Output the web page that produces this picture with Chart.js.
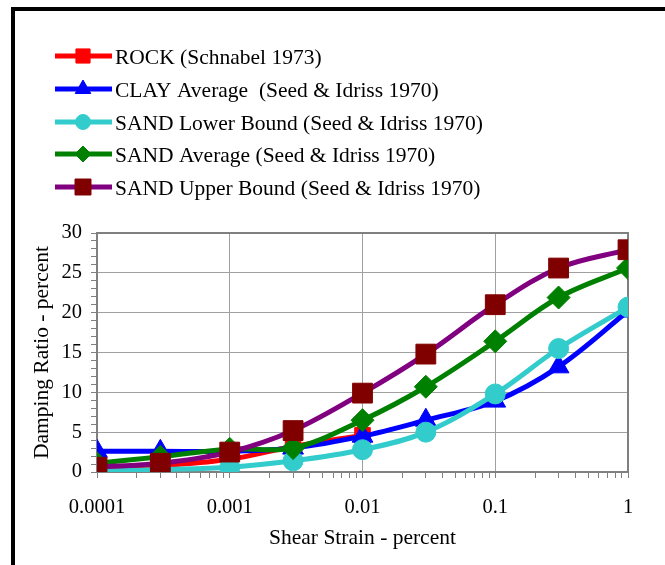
<!DOCTYPE html>
<html>
<head>
<meta charset="utf-8">
<script src="https://cdn.jsdelivr.net/npm/chart.js@4/dist/chart.umd.min.js"></script>
<style>
  html, body { margin: 0; padding: 0; background: #fff; }
  #wrap { position: relative; width: 665px; height: 565px; }
</style>
</head>
<body>
<div id="wrap"><canvas id="dampingchart"></canvas></div>
<script>
// shear strain (percent) and damping ratio (percent)
const strain = [0.0001, 0.0003, 0.001, 0.003, 0.01, 0.03, 0.1, 0.3, 1];
const rock = [0.3, 0.8, 1.6, 3.2, 4.6];
const clayAvg = [2.6, 2.6, 2.6, 3.0, 4.5, 6.5, 8.9, 13.2, 20.2];
const sandLower = [0.1, 0.3, 0.6, 1.4, 2.8, 5.0, 9.8, 15.5, 20.7];
const sandAvg = [1.1, 1.9, 2.9, 3.0, 6.5, 10.7, 16.4, 21.9, 25.6];
const sandUpper = [0.6, 1.1, 2.5, 5.2, 9.9, 14.8, 21.0, 25.6, 27.9];

const names = [
    'ROCK (Schnabel 1973)',
    'CLAY Average  (Seed & Idriss 1970)',
    'SAND Lower Bound (Seed & Idriss 1970)',
    'SAND Average (Seed & Idriss 1970)',
    'SAND Upper Bound (Seed & Idriss 1970)'
];
const xTickValues = [0.0001, 0.001, 0.01, 0.1, 1];
const xTickLabels = ['0.0001', '0.001', '0.01', '0.1', '1'];
const yTickLabels = ['0', '5', '10', '15', '20', '25', '30'];

const serif = "'Liberation Serif', 'Times New Roman', serif";
Chart.defaults.font.family = serif;
Chart.defaults.color = '#000';

function pairs(values) {
    let arr = [];
    for (let i = 0; i < values.length; i++) {
        arr.push({ x: strain[i], y: values[i] });
    }
    return arr;
}

function makeSet(label, values, lineColor, markColor, style, radius, legendRadius, order) {
    return {
        label: label,
        data: pairs(values),
        borderColor: lineColor,
        backgroundColor: markColor,
        borderWidth: 5,
        tension: 0.35,
        pointStyle: style,
        pointRadius: radius,
        pointHoverRadius: radius,
        pointBorderColor: markColor,
        pointBackgroundColor: markColor,
        pointBorderWidth: 1,
        legendRadius: legendRadius,
        order: order
    };
}

const datasets = [
    makeSet(names[0], rock, '#ff0000', '#ff0000', 'rect', 11, 10, 5),
    makeSet(names[1], clayAvg, '#0000ff', '#0000ff', 'triangle', 12, 9, 4),
    makeSet(names[2], sandLower, '#33cccc', '#33cccc', 'circle', 10, 7.5, 3),
    makeSet(names[3], sandAvg, '#008000', '#008000', 'rectRot', 11.5, 8, 2),
    makeSet(names[4], sandUpper, '#800080', '#800000', 'rect', 14, 11.3, 1)
];

function isDecade(v) {
    return xTickValues.some(d => Math.abs(v - d) / d < 1e-6);
}

const frameAndLegend = {
    id: 'frameAndLegend',
    beforeDatasetsDraw(chart) {
        const a = chart.chartArea;
        const ctx = chart.ctx;
        ctx.save();
        ctx.strokeStyle = '#808080';
        ctx.lineWidth = 2;
        ctx.strokeRect(a.left, a.top, a.right - a.left, a.bottom - a.top);
        ctx.restore();
    },
    afterDraw(chart) {
        const ctx = chart.ctx;
        ctx.save();
        // outer black border (only top and left are in the picture)
        ctx.fillStyle = '#000';
        ctx.fillRect(11, 7, 665, 4);
        ctx.fillRect(11, 7, 4, 565);

        ctx.font = '21.5px ' + serif;
        ctx.textBaseline = 'alphabetic';
        ctx.textAlign = 'left';
        for (let i = 0; i < datasets.length; i++) {
            const ds = datasets[i];
            const y = Math.round(56 + 32.8 * i);
            ctx.strokeStyle = ds.borderColor;
            ctx.lineWidth = 5;
            ctx.beginPath();
            ctx.moveTo(55, y);
            ctx.lineTo(112, y);
            ctx.stroke();
            ctx.fillStyle = ds.pointBackgroundColor;
            ctx.strokeStyle = ds.pointBorderColor;
            ctx.lineWidth = 1;
            Chart.helpers.drawPoint(ctx, {
                pointStyle: ds.pointStyle,
                radius: ds.legendRadius,
                rotation: 0,
                borderWidth: 1
            }, 83, y);
            ctx.fillStyle = '#000';
            ctx.fillText(ds.label, 115, y + 8);
        }
        ctx.restore();
    }
};

const config = {
    type: 'line',
    data: { datasets: datasets },
    options: {
        responsive: true,
        maintainAspectRatio: false,
        animation: false,
        layout: { padding: { left: 0, right: 37, top: 233, bottom: 0 } },
        plugins: { legend: { display: false }, tooltip: { enabled: false } },
        scales: {
            x: {
                type: 'logarithmic',
                min: 0.0001,
                max: 1,
                afterBuildTicks(scale) {
                    let ticks = [];
                    for (let d = 0; d < xTickValues.length - 1; d++) {
                        for (let m = 1; m < 10; m++) {
                            ticks.push({ value: m * xTickValues[d] });
                        }
                    }
                    ticks.push({ value: 1 });
                    scale.ticks = ticks;
                },
                afterFit(scale) { scale.height = 93; },
                ticks: {
                    autoSkip: false,
                    maxRotation: 0,
                    padding: 17,
                    font: { size: 20.5 },
                    callback(value) {
                        for (let d = 0; d < xTickValues.length; d++) {
                            if (Math.abs(value - xTickValues[d]) / xTickValues[d] < 1e-6) return xTickLabels[d];
                        }
                        return '';
                    }
                },
                grid: {
                    color: ctx => isDecade(ctx.tick.value) ? '#a0a0a0' : 'rgba(0,0,0,0)',
                    tickColor: '#808080',
                    tickLength: 6,
                    lineWidth: 1
                },
                border: { color: '#808080', width: 2 },
                title: {
                    display: true,
                    text: 'Shear Strain - percent',
                    font: { size: 21.5 },
                    padding: { top: 0, bottom: 14 }
                }
            },
            y: {
                min: 0,
                max: 30,
                afterFit(scale) { scale.width = 97; },
                ticks: {
                    stepSize: 1,
                    autoSkip: false,
                    padding: 9,
                    font: { size: 20.5 },
                    callback(value) {
                        return value % 5 === 0 ? yTickLabels[value / 5] : '';
                    }
                },
                grid: {
                    color: ctx => ctx.tick.value % 5 === 0 ? '#a0a0a0' : 'rgba(0,0,0,0)',
                    tickColor: '#808080',
                    tickLength: 6,
                    lineWidth: 1
                },
                border: { color: '#808080', width: 2 },
                title: {
                    display: true,
                    text: 'Damping Ratio - percent',
                    font: { size: 21.5 },
                    padding: { top: 29, bottom: 0 }
                }
            }
        }
    },
    plugins: [frameAndLegend]
};

const dampingChart = new Chart(document.getElementById('dampingchart'), config);
</script>
</body>
</html>
